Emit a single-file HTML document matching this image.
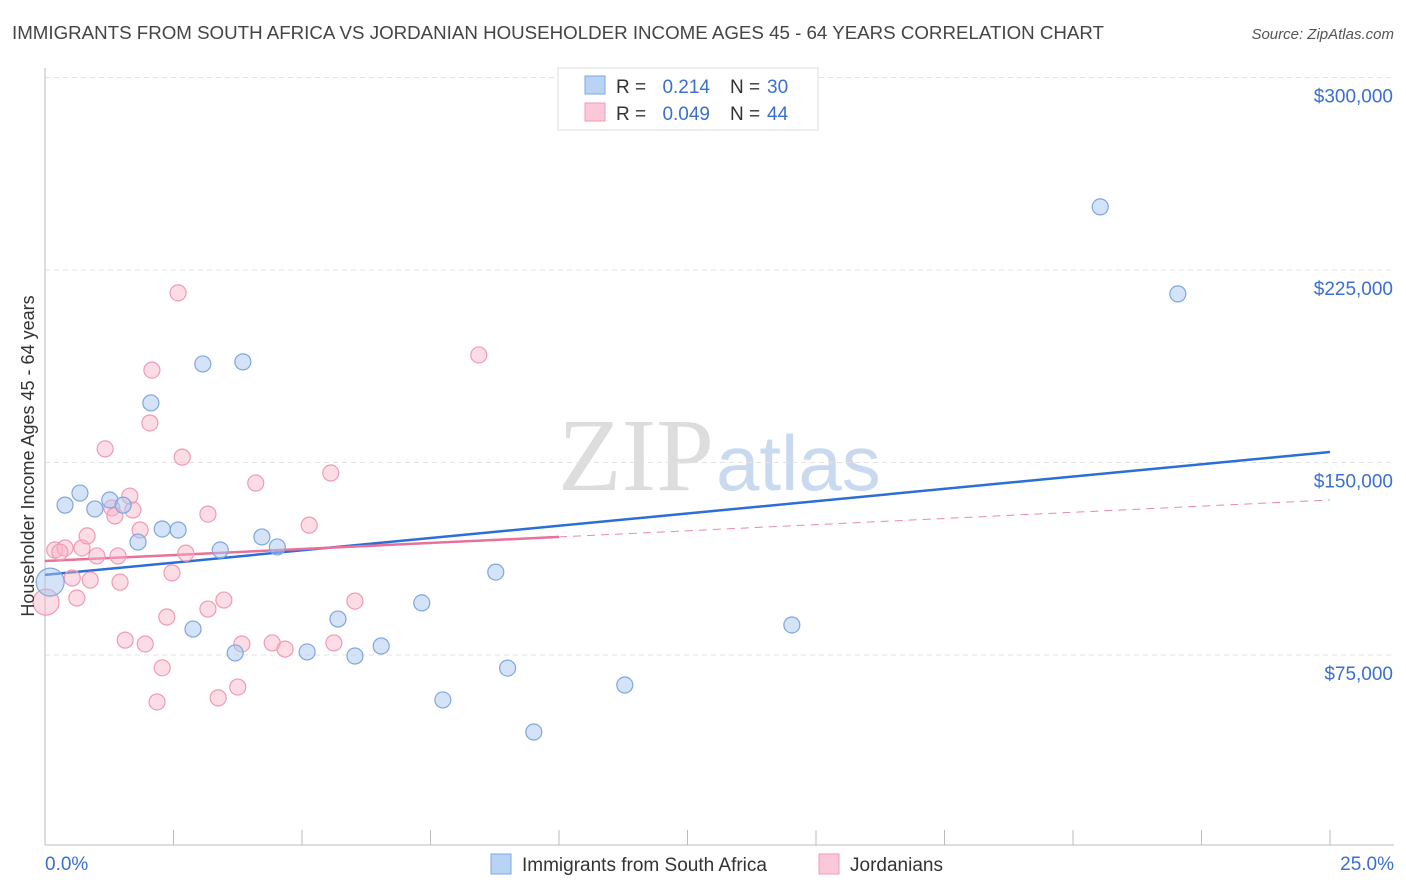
<!DOCTYPE html>
<html><head><meta charset="utf-8"><style>
body{margin:0;background:#fff;font-family:"Liberation Sans",sans-serif;}
svg{display:block}
</style></head><body>
<svg id="chart" width="1406" height="892">
<text x="12" y="39" font-size="18" fill="#444" textLength="1092" lengthAdjust="spacingAndGlyphs">IMMIGRANTS FROM SOUTH AFRICA VS JORDANIAN HOUSEHOLDER INCOME AGES 45 - 64 YEARS CORRELATION CHART</text>
<text x="1394" y="39" font-size="15" fill="#555" font-style="italic" text-anchor="end">Source: ZipAtlas.com</text>
<text x="714" y="490" font-size="104" fill="#ddd" text-anchor="end" font-family="Liberation Serif,serif">ZIP</text>
<text x="716" y="490" font-size="78" fill="#c9daf0">atlas</text>
<g id="grid"></g><g id="axes"></g><g id="lines"></g><g id="pts"></g>
<text transform="translate(34,456) rotate(-90)" font-size="18" fill="#333" text-anchor="middle">Householder Income Ages 45 - 64 years</text>
<g>
<rect x="558" y="68" width="260" height="62" fill="#fff" stroke="#ddd"/>
<rect x="585" y="76" width="20" height="18" fill="#b9d3f5" stroke="#7da7e0"/>
<text x="616" y="93" font-size="19" fill="#333">R =</text>
<text x="710" y="93" font-size="19" fill="#3a6fd0" text-anchor="end">0.214</text>
<text x="730" y="93" font-size="19" fill="#333">N =</text>
<text x="767" y="93" font-size="19" fill="#3a6fd0">30</text>
<rect x="585" y="103" width="20" height="18" fill="#fac8d7" stroke="#f09ab5"/>
<text x="616" y="120" font-size="19" fill="#333">R =</text>
<text x="710" y="120" font-size="19" fill="#3a6fd0" text-anchor="end">0.049</text>
<text x="730" y="120" font-size="19" fill="#333">N =</text>
<text x="767" y="120" font-size="19" fill="#3a6fd0">44</text>
</g>
<g>
<rect x="491" y="854" width="20" height="20" fill="#b9d3f5" stroke="#7da7e0"/>
<text x="522" y="871" font-size="19" fill="#333">Immigrants from South Africa</text>
<rect x="819" y="854" width="20" height="20" fill="#fac8d7" stroke="#f09ab5"/>
<text x="850" y="871" font-size="19" fill="#333">Jordanians</text>
</g>
</svg>
<script>
const yTicks=[75000,150000,225000,300000];
const yTickLabels=["$75,000","$150,000","$225,000","$300,000"];
const blueX=[0.10,0.39,0.68,0.97,1.26,1.52,1.81,2.06,2.28,2.59,2.88,3.07,3.41,3.70,3.85,4.22,4.52,5.10,5.70,6.03,6.54,7.33,7.74,8.77,9.00,9.51,11.28,14.53,20.53,22.04];
const blueY=[103.4,133.4,138.1,131.9,135.4,133.4,119.0,173.2,124.1,123.7,85.1,188.4,115.9,75.8,189.2,121.0,117.1,76.2,89.0,74.6,78.5,95.3,57.5,107.3,69.9,45.0,63.3,86.7,249.6,215.7];
const pinkX=[0.02,0.19,0.39,0.53,0.62,0.72,0.82,0.88,1.01,1.17,1.30,1.36,1.46,1.56,1.65,1.71,1.85,1.95,2.04,2.08,2.18,2.28,2.37,2.47,2.59,2.67,2.74,3.17,3.17,3.37,3.48,3.75,3.83,4.10,4.42,4.67,5.14,5.56,5.62,6.03,8.44,0.29,1.42];
const pinkY=[95.6,115.9,116.7,105.0,97.2,116.7,121.4,104.2,113.6,155.3,132.3,129.2,103.4,80.8,136.9,131.5,123.7,79.3,165.4,186.0,56.7,70.0,89.8,107.0,216.1,152.1,114.7,92.9,129.9,58.3,96.4,62.5,79.3,142.0,79.7,77.3,125.6,145.9,79.7,96.0,191.9,115.1,113.6];
const blueTrend=[106.2,154.1];
const pinkTrend=[111.6,121.0,135.4];
const X=p=>45+p/25*1285;
const Y=k=>847.5-k*1000/75000*192.5;
const NS="http://www.w3.org/2000/svg";
function mk(parent,tag,attrs){const e=document.createElementNS(NS,tag);for(const k in attrs)e.setAttribute(k,attrs[k]);document.getElementById(parent).appendChild(e);return e;}
yTicks.forEach((t,i)=>{
 const y=Y(t/1000);
 const l=mk('grid','line',{x1:45,x2:1394,y1:y,y2:y,stroke:'#e3e3e3','stroke-dasharray':'5,4'});
 
 
 const tx=mk('grid','text',{x:1393,y:y+25,'font-size':19,fill:'#3a6fd0','text-anchor':'end'});
 tx.textContent=yTickLabels[i];
 
 
});
let a=mk('axes','line',{x1:45,x2:45,y1:68,y2:845,stroke:'#bbb'});


a=mk('axes','line',{x1:45,x2:1394,y1:845,y2:845,stroke:'#bbb'});


for(let i=0;i<=10;i++){const t=mk('axes','line',{x1:X(i*2.5),x2:X(i*2.5),y1:830,y2:845,stroke:'#bbb'});
 
 }
let lb=mk('axes','text',{x:45,y:870,'font-size':19,fill:'#3a6fd0'});lb.textContent='0.0%';


lb=mk('axes','text',{x:1394,y:870,'font-size':19,fill:'#3a6fd0','text-anchor':'end'});lb.textContent='25.0%';


pinkX.forEach((x,i)=>{const c=mk('pts','circle',{cx:X(x),cy:Y(pinkY[i]),r:i==0?13:8,fill:'rgba(248,180,200,0.45)',stroke:'#f09ab5','stroke-width':1.2});
 
 });
blueX.forEach((x,i)=>{const c=mk('pts','circle',{cx:X(x),cy:Y(blueY[i]),r:i==0?14:8,fill:'rgba(170,200,240,0.5)',stroke:'#7da7e0','stroke-width':1.2});
 
 });
let ln=mk('lines','line',{x1:X(0),y1:Y(blueTrend[0]),x2:X(25),y2:Y(blueTrend[1]),stroke:'#2b6fd6','stroke-width':2.5});


ln=mk('lines','line',{x1:X(10),y1:Y(pinkTrend[1]),x2:X(25),y2:Y(pinkTrend[2]),stroke:'#e88aa8','stroke-width':1,'stroke-dasharray':'8,6'});


ln=mk('lines','line',{x1:X(0),y1:Y(pinkTrend[0]),x2:X(10),y2:Y(pinkTrend[1]),stroke:'#e8709a','stroke-width':2.5});


</script>
</body></html>
